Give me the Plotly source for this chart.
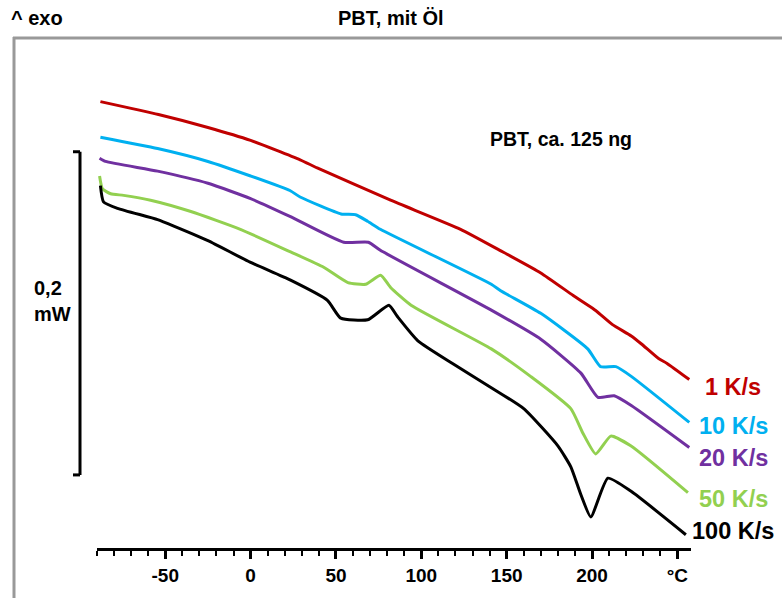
import plotly.graph_objects as go

# ---------------- data (temperature in °C, heat flow in mW, arbitrary offset) -------------
t_1 = [-88, -54, -25, 0, 29, 39, 82, 123, 146, 170, 189, 199, 203, 212, 223, 229, 239, 244, 257]
hf_1 = [0.275, 0.267, 0.259, 0.251, 0.239, 0.234, 0.214, 0.196, 0.183, 0.169, 0.155, 0.148,
        0.145, 0.137, 0.130, 0.125, 0.116, 0.113, 0.103]

t_10 = [-88, -54.5, -25, 0, 23, 29, 53, 61.5, 68.5, 76, 141, 146.5, 170, 197.5, 205, 214, 223, 257]
hf_10 = [0.253, 0.246, 0.238, 0.229, 0.220, 0.216, 0.2055, 0.205, 0.201, 0.196, 0.162, 0.158,
         0.144, 0.122, 0.111, 0.111, 0.105, 0.0765]

t_20 = [-88.5, -85, -54.5, -25, 0, 23, 54.5, 69, 76, 141, 170, 193.5, 203.5, 213, 223, 257]
hf_20 = [0.240, 0.238, 0.232, 0.2245, 0.215, 0.204, 0.188, 0.188, 0.183, 0.146, 0.128, 0.107,
         0.092, 0.093, 0.087, 0.061]

t_50 = [-88.5, -86.8, -82, -74.4, -58.6, -35, -6, 23.4, 42.8, 57, 67.4, 76.2, 82, 94, 141,
        164, 187.6, 194.6, 202.2, 211, 222.7, 256.2]
hf_50 = [0.229, 0.221, 0.218, 0.217, 0.214, 0.207, 0.196, 0.182, 0.1725, 0.163, 0.162, 0.1676,
         0.160, 0.149, 0.122, 0.105, 0.085, 0.070, 0.057, 0.068, 0.062, 0.033]

t_100 = [-88, -86.2, -78, -54.5, -45, -25, 0, 23.4, 45, 52.8, 68.6, 81, 86, 98, 119, 141, 160,
         180, 187.6, 193.4, 199.3, 209.3, 222.7, 255]
hf_100 = [0.223, 0.213, 0.209, 0.202, 0.198, 0.189, 0.1755, 0.1645, 0.152, 0.141, 0.140, 0.149,
          0.142, 0.127, 0.1125, 0.098, 0.085, 0.062, 0.049, 0.032, 0.018, 0.042, 0.034, 0.007]

series = [
    ("1 K/s", t_1, hf_1, "#C00000"),
    ("10 K/s", t_10, hf_10, "#00B0F0"),
    ("20 K/s", t_20, hf_20, "#7030A0"),
    ("50 K/s", t_50, hf_50, "#92D050"),
    ("100 K/s", t_100, hf_100, "#000000"),
]

tick_vals = [-50, 0, 50, 100, 150, 200, 250]
tick_text = ["-50", "0", "50", "100", "150", "200", "°C"]

scale_mw = 0.2          # length of the scale bar
scale_bottom = 0.044    # where the scale bar starts (mW)

# ---------------- layout geometry -------------
W, H = 782, 598
L, R, T, B = 97, 91, 40, 44
PW, PH = W - L - R, H - T - B
F = 0.2 / 327.0  # mW per pixel


def px(x):
    return (x - L) / PW


def py(y):
    return (H - B - y) / PH


FONT = "Liberation Sans, Arial, sans-serif"

fig = go.Figure()
for name, t, hf, col in series:
    fig.add_trace(go.Scatter(x=t, y=hf, mode="lines", name=name,
                             line=dict(color=col, width=3, shape="spline", smoothing=0.5),
                             showlegend=False))

# series labels at right
label_y = {"1 K/s": 391, "10 K/s": 431, "20 K/s": 463, "50 K/s": 504, "100 K/s": 537}
annotations = []
for name, t, hf, col in series:
    annotations.append(dict(x=px(733), y=py(label_y[name]), xref="paper", yref="paper",
                            text=name, showarrow=False, xanchor="center", yanchor="middle",
                            font=dict(family=FONT, size=23.5, color=col, weight="bold")))

annotations += [
    dict(x=px(391), y=py(18), xref="paper", yref="paper", text="PBT, mit Öl", showarrow=False,
         xanchor="center", yanchor="middle", font=dict(family=FONT, size=20, color="black", weight="bold")),
    dict(x=px(9), y=py(18), xref="paper", yref="paper", text="^ exo", showarrow=False,
         xanchor="left", yanchor="middle", font=dict(family=FONT, size=20, color="black", weight="bold")),
    dict(x=px(488), y=py(140), xref="paper", yref="paper", text="PBT, ca. 125 ng", showarrow=False,
         xanchor="left", yanchor="middle", font=dict(family=FONT, size=19.5, color="black", weight="bold")),
    dict(x=px(32), y=scale_bottom + scale_mw / 2 + 12 * F, xref="paper", yref="y", text="0,2<br>mW",
         showarrow=False, xanchor="left", yanchor="middle", align="left",
         font=dict(family=FONT, size=20, color="black", weight="bold")),
]

shapes = [
    # gray frame
    dict(type="line", xref="paper", yref="paper", x0=px(13), x1=px(800), y0=py(38), y1=py(38),
         line=dict(color="#999999", width=3)),
    dict(type="line", xref="paper", yref="paper", x0=px(14), x1=px(14), y0=py(37), y1=py(620),
         line=dict(color="#999999", width=3)),
    # scale bar
    dict(type="line", xref="paper", yref="y", x0=px(80), x1=px(80), y0=scale_bottom,
         y1=scale_bottom + scale_mw, line=dict(color="black", width=3)),
    dict(type="line", xref="paper", yref="y", x0=px(73), x1=px(80), y0=scale_bottom,
         y1=scale_bottom, line=dict(color="black", width=3)),
    dict(type="line", xref="paper", yref="y", x0=px(73), x1=px(80), y0=scale_bottom + scale_mw,
         y1=scale_bottom + scale_mw, line=dict(color="black", width=3)),
]

fig.update_layout(
    width=W, height=H, margin=dict(l=L, r=R, t=T, b=B, pad=0),
    paper_bgcolor="white", plot_bgcolor="white",
    annotations=annotations, shapes=shapes,
    xaxis=dict(range=[-90, 258], showgrid=False, zeroline=False, showline=True,
               linecolor="black", linewidth=3, ticks="outside", ticklen=8, tickwidth=2.5,
               tickcolor="black", tickvals=tick_vals, ticktext=tick_text,
               tickfont=dict(family=FONT, size=19, color="black", weight="bold"),
               minor=dict(dtick=10, tick0=0, ticks="outside", ticklen=5, tickwidth=2, tickcolor="black")),
    yaxis=dict(range=[-2 * F, 512 * F], visible=False),
)

fig.write_html("out.html")
